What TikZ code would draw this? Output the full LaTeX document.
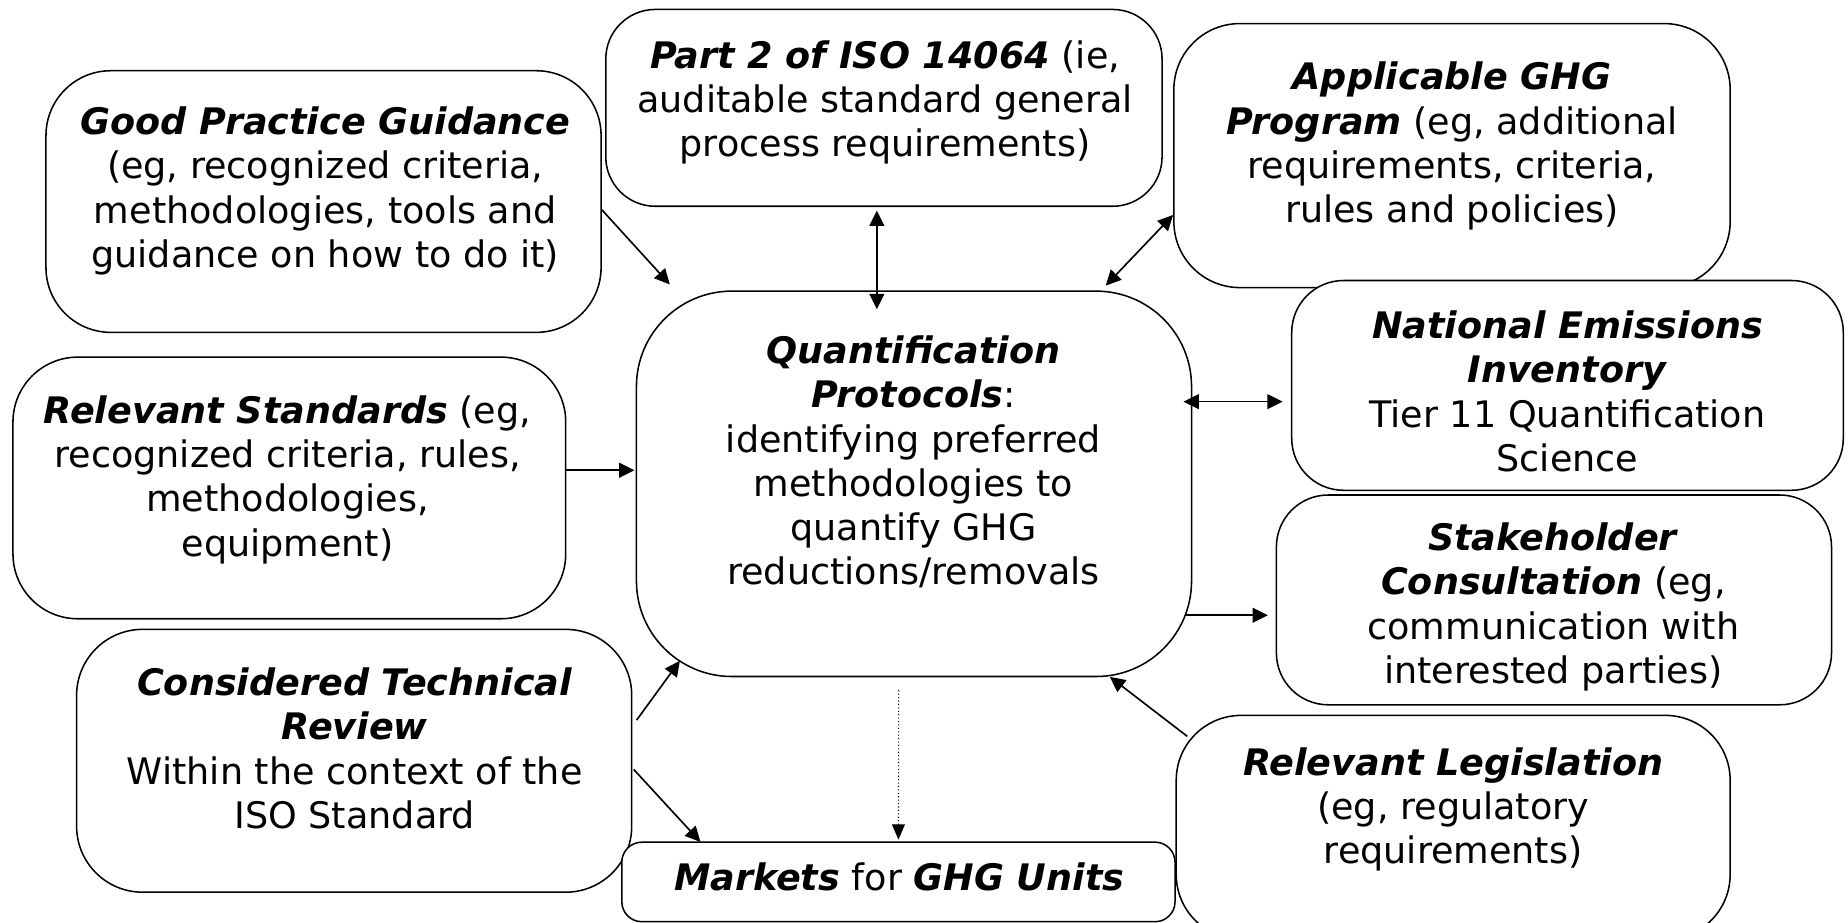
\documentclass[tikz,border=0pt]{standalone}
\usepackage{fontspec}
\setmainfont{DejaVu Sans}
\usetikzlibrary{arrows.meta}
\newcommand{\bi}[1]{\textbf{\textit{#1}}}
\begin{document}
\begin{tikzpicture}[x=1pt,y=-1pt,
  box/.style={draw, fill=white, line width=1.3pt, inner sep=0pt},
  txt/.style={align=center, font=\fontsize{31}{37.5}\selectfont, inner sep=0pt},
  tip/.tip={Triangle[length=13pt,width=12.5pt]},
  arr/.style={line width=1.4pt, -tip},
  biarr/.style={line width=1.4pt, tip-tip},
  dotarr/.style={line width=0.9pt, dotted, -{Triangle[length=13pt,width=11pt]}},
]
\useasboundingbox (0,0) rectangle (1568,782.3);

% boxes
\node[box, minimum width=472pt, minimum height=167pt, rounded corners=42pt] (part2) at (750,91.5) {};
\node[box, minimum width=471pt, minimum height=222pt, rounded corners=55pt] (gpg) at (274.5,171) {};
\node[box, minimum width=472pt, minimum height=224pt, rounded corners=56pt] (app) at (1232,132) {};
\node[box, minimum width=468pt, minimum height=178pt, rounded corners=44pt] (nat) at (1330,327) {};
\node[box, minimum width=469pt, minimum height=222pt, rounded corners=55pt] (std) at (245.5,414) {};
\node[box, minimum width=471pt, minimum height=327pt, rounded corners=81pt] (quant) at (775.5,410.5) {};
\node[box, minimum width=471pt, minimum height=178pt, rounded corners=44pt] (stake) at (1318.5,509) {};
\node[box, minimum width=471pt, minimum height=223pt, rounded corners=56pt] (ctr) at (300.5,645.5) {};
\node[box, minimum width=470pt, minimum height=190pt, rounded corners=55pt] (leg) at (1233,702) {};
\node[box, minimum width=469.4pt, minimum height=67.5pt, rounded corners=17pt] (markets) at (762.3,748.3) {};

% texts
\node[txt] (part2t) at (751,87) {\bi{Part 2 of ISO 14064} (ie,\\auditable standard general\\process requirements)};
\node[txt] (gpgt) at (276,162) {\bi{Good Practice Guidance}\\(eg, recognized criteria,\\methodologies, tools and\\guidance on how to do it)};
\node[txt] (appt) at (1232,124) {\bi{Applicable GHG}\\\bi{Program} (eg, additional\\requirements, criteria,\\rules and policies)};
\node[txt] (natt) at (1330,332) {\bi{National Emissions}\\\bi{Inventory}\\Tier 11 Quantification\\Science};
\node[txt] (stdt) at (244,407) {\bi{Relevant Standards} (eg,\\recognized criteria, rules,\\methodologies,\\equipment)};
\node[txt] (quantt) at (775,392) {\bi{Quantification}\\\bi{Protocols}:\\identifying preferred\\methodologies to\\quantify GHG\\reductions/removals};
\node[txt] (staket) at (1318,515) {\bi{Stakeholder}\\\bi{Consultation} (eg,\\communication with\\interested parties)};
\node[txt] (ctrt) at (301,635) {\bi{Considered Technical}\\\bi{Review}\\Within the context of the\\ISO Standard};
\node[txt] (legt) at (1233,687) {\bi{Relevant Legislation}\\(eg, regulatory\\requirements)};
\node[txt] (marketst) at (763,744) {\bi{Markets} for \bi{GHG Units}};

% connectors
\draw[arr] ([yshift=-7pt]gpg.east) -- ([xshift=29pt,yshift=5pt]quant.north west);
\draw[biarr] ([xshift=-6pt,yshift=-3pt]part2.south) -- ([xshift=-31.5pt,yshift=-16pt]quant.north);
\draw[biarr] ([yshift=-50.4pt]app.west) -- ([xshift=-73.5pt,yshift=4pt]quant.north east);
\draw[biarr] ([xshift=-7.5pt,yshift=69.7pt]quant.east) -- ([xshift=-7pt,yshift=-13.8pt]nat.west);
\draw[arr] ([yshift=15pt]std.east) -- ([xshift=-1pt,yshift=11.5pt]quant.west);
\draw[arr] ([xshift=-6.5pt,yshift=-111.5pt]quant.east) -- ([xshift=-6.5pt,yshift=-13pt]stake.west);
\draw[arr] ([xshift=10pt,yshift=-18.4pt]leg.north west) -- ([xshift=-70pt,yshift=0.4pt]quant.south east);
\draw[arr] ([xshift=3.5pt,yshift=34.5pt]ctr.east) -- ([xshift=37.5pt,yshift=14pt]quant.south west);
\draw[arr] ([xshift=1pt,yshift=-7.3pt]ctr.east) -- ([xshift=67.4pt,yshift=-0.5pt]markets.north west);
\draw[dotarr] ([xshift=-13pt,yshift=-11pt]quant.south) -- ([yshift=1.5pt]markets.north);
\end{tikzpicture}
\end{document}
